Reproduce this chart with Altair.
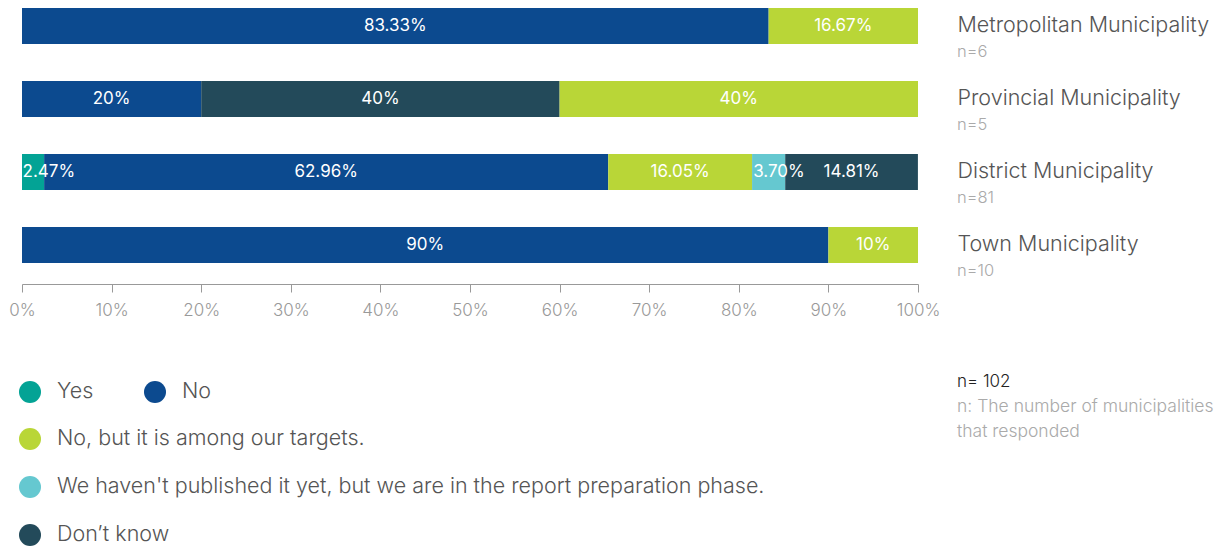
import altair as alt
import pandas as pd

FONT = "Inter"

rows = ["Metropolitan Municipality", "Provincial Municipality", "District Municipality", "Town Municipality"]
row_n = [6, 5, 81, 10]

categories = [
    "Yes",
    "No",
    "No, but it is among our targets.",
    "We haven't published it yet, but we are in the report preparation phase.",
    "Don\u2019t know",
]
colors = ["#03a395", "#0c4a8f", "#b9d637", "#65c8d0", "#234a5a"]

# segments per row, in the order they appear left to right
metro_cats = ["No", "No, but it is among our targets."]
metro_vals = [83.33, 16.67]
prov_cats = ["No", "Don\u2019t know", "No, but it is among our targets."]
prov_vals = [20, 40, 40]
district_cats = ["Yes", "No", "No, but it is among our targets.",
                 "We haven't published it yet, but we are in the report preparation phase.", "Don\u2019t know"]
district_vals = [2.47, 62.96, 16.05, 3.70, 14.81]
town_cats = ["No", "No, but it is among our targets."]
town_vals = [90, 10]

total_label = "n= 102"
note_lines = ["n: The number of municipalities", "that responded"]


def fmt(v):
    return f"{int(v)}%" if float(v) == int(v) else f"{v:.2f}%"


recs = []
for r, cats, vals in zip(rows, [metro_cats, prov_cats, district_cats, town_cats],
                         [metro_vals, prov_vals, district_vals, town_vals]):
    for i, (c, v) in enumerate(zip(cats, vals)):
        recs.append({"row": r, "cat": c, "value": v, "seq": i, "label": fmt(v)})
df = pd.DataFrame(recs)
ndf = pd.DataFrame({"row": rows, "nlabel": [f"n={n}" for n in row_n]})

W300 = 300

y_enc = alt.Y(
    "row:N",
    sort=rows,
    scale=alt.Scale(domain=rows, paddingInner=0.507, paddingOuter=0.144, align=0),
    axis=alt.Axis(orient="right", title=None, domain=False, ticks=False, labelAlign="left",
                  labelPadding=39, labelFontSize=21.5, labelColor="#555555", labelFont=FONT,
                  labelFontWeight=W300, labelLimit=400, labelBaseline="middle"),
)

base = alt.Chart(df).transform_stack(
    stack="value", as_=["x0", "x1"], groupby=["row"], sort=[alt.SortField("seq", order="ascending")]
).transform_calculate(mid="max((datum.x0 + datum.x1) / 2, datum.x0 + 3.0)")

bars = base.mark_bar(strokeWidth=0).encode(
    x=alt.X("x0:Q", scale=alt.Scale(domain=[0, 100], nice=False),
            axis=alt.Axis(values=list(range(0, 101, 10)), labelExpr="datum.value + '%'", title=None,
                          grid=False, domainColor="#999999", tickColor="#999999", tickSize=8,
                          labelFontSize=17, labelColor="#999999", labelPadding=10, labelFont=FONT,
                          labelFontWeight=W300, labelFlush=False, labelOverlap=False)),
    x2="x1:Q",
    y=y_enc,
    color=alt.Color("cat:N", scale=alt.Scale(domain=categories, range=colors), legend=None),
)

texts = base.mark_text(color="white", fontSize=17, font=FONT, fontWeight=400).encode(
    x="mid:Q", y=y_enc, text="label:N"
)

nlabels = alt.Chart(ndf).mark_text(align="left", dy=26, fontSize=16.5, color="#aaaaaa", font=FONT,
                                   fontWeight=W300).encode(
    x=alt.value(935), y=y_enc, text="nlabel:N"
)

total = alt.Chart(pd.DataFrame({"t": [total_label]})).mark_text(
    align="left", baseline="middle", fontSize=17, color="#222222", font=FONT, fontWeight=W300
).encode(x=alt.value(935), y=alt.value(374), text="t:N")

notes = alt.Chart(pd.DataFrame({"t": [0]})).mark_text(
    align="left", baseline="middle", fontSize=17.5, color="#aaaaaa", font=FONT, fontWeight=W300,
    lineHeight=25
).encode(x=alt.value(935), y=alt.value(399), text=alt.value(note_lines))

leg_common = dict(orient="none", title=None, symbolType="circle", symbolSize=484, symbolStrokeWidth=0,
                  symbolOpacity=1, labelFontSize=21.5, labelFont=FONT, labelFontWeight=W300,
                  labelColor="#555555", labelOffset=16, labelLimit=1000)

leg1 = alt.Chart(df).transform_filter("false").mark_point(filled=True, shape="circle").encode(
    color=alt.Color("cat:N", scale=alt.Scale(domain=categories[:2], range=colors[:2]),
                    legend=alt.Legend(legendX=-3, legendY=373, direction="horizontal",
                                      columnPadding=50, **leg_common))
)
leg2 = alt.Chart(df).transform_filter("false").mark_point(filled=True, shape="circle").encode(
    color=alt.Color("cat:N", scale=alt.Scale(domain=categories[2:], range=colors[2:]),
                    legend=alt.Legend(legendX=-3, legendY=420, direction="vertical",
                                      rowPadding=26, **leg_common))
)

chart = alt.layer(bars, texts, nlabels, total, notes, leg1, leg2).resolve_scale(
    color="independent"
).properties(
    width=896, height=276,
    autosize=alt.AutoSizeParams(type="none"),
    padding={"left": 14, "top": 0, "right": 300, "bottom": 262},
).configure_view(stroke=None)

chart.save("out.html", embed_options={"renderer": "svg", "actions": False})
